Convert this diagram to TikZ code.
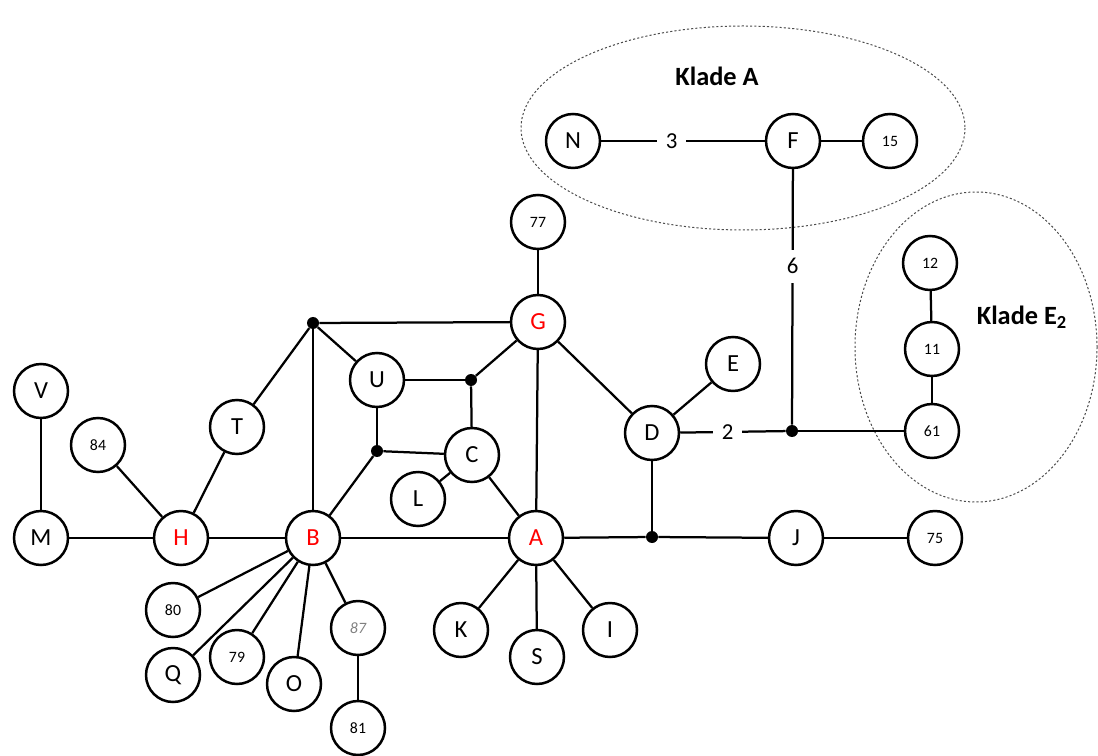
\documentclass[tikz,border=0pt]{standalone}
\usepackage{fontspec}
\setmainfont{Carlito}
\usepackage{tikz}

\begin{document}
\begin{tikzpicture}[x=0.02cm, y=-0.02cm,
        vtx/.style={shape=circle, draw=black, line width=0.5mm, minimum size=1.08cm, inner sep=0pt, font=\fontsize{14}{16}\selectfont},
        num/.style={vtx, font=\fontsize{9}{11}\selectfont},
        red/.style={text=red},
        dot/.style={shape=circle, fill=black, inner sep=0pt, minimum size=0.24cm},
        wt/.style={fill=white, inner sep=5pt, font=\fontsize{13}{15}\selectfont},
        link/.style={line width=0.45mm},
        clade/.style={draw=black!70, dashed, dash pattern=on 1.2pt off 1.2pt, line width=0.2mm}]
            \useasboundingbox (0, 0) rectangle (1098, 756);

            % clades
            \draw[clade] (743, 128) ellipse (222 and 102);
            \draw[clade] (976, 347) ellipse (121 and 155);
            \node[font=\bfseries\fontsize{15}{17}\selectfont] (kA) at (717, 76) {Klade A};
            \node[font=\bfseries\fontsize{15}{17}\selectfont] (kE) at (1022, 317) {Klade E\textsubscript{2}};

            \node[vtx] (N) at (573, 141) {N};
            \node[vtx] (F) at (793, 141) {F};
            \node[num] (n15) at (890, 141) {15};
            \node[num] (n77) at (538, 222) {77};
            \node[vtx, red] (G) at (538, 322) {G};
            \node[vtx] (U) at (377, 380) {U};
            \node[vtx] (C) at (472, 455) {C};
            \node[vtx] (L) at (418, 499) {L};
            \node[vtx] (E) at (733, 364) {E};
            \node[vtx] (D) at (652, 433) {D};
            \node[num] (n12) at (930, 263) {12};
            \node[num] (n11) at (932, 349) {11};
            \node[num] (n61) at (932, 431) {61};
            \node[vtx] (V) at (41, 391) {V};
            \node[num] (n84) at (98, 445) {84};
            \node[vtx] (T) at (237, 427) {T};
            \node[vtx] (M) at (41, 538) {M};
            \node[vtx, red] (H) at (181, 538) {H};
            \node[vtx, red] (B) at (313, 538) {B};
            \node[vtx, red] (A) at (536, 538) {A};
            \node[vtx] (J) at (796, 538) {J};
            \node[num] (n75) at (935, 538) {75};
            \node[num] (n80) at (173, 610) {80};
            \node[vtx] (Q) at (173, 675) {Q};
            \node[num] (n79) at (237, 657) {79};
            \node[vtx] (O) at (294, 684) {O};
            \node[num, text=gray] (n87) at (358, 628) {\itshape 87};
            \node[num] (n81) at (358, 728) {81};
            \node[vtx] (K) at (461, 630) {K};
            \node[vtx] (S) at (537, 657) {S};
            \node[vtx] (I) at (610, 630) {I};

            \node[dot] (p1) at (313, 323) {};
            \node[dot] (p2) at (471, 380) {};
            \node[dot] (p3) at (377, 451) {};
            \node[dot] (p4) at (792, 431) {};
            \node[dot] (p5) at (652, 537) {};

            \path [link] (N) edge node[wt, pos=0.43] {3} (F);
            \path [link] (F) edge (n15);
            \path [link] (F) edge node[wt, pos=0.38] {6} (p4);
            \path [link] (D) edge node[wt, pos=0.45] {2} (p4);
            \path [link] (p4) edge (n61);
            \path [link] (n61) edge (n11);
            \path [link] (n11) edge (n12);

            \path [link] (n77) edge (G);
            \path [link] (G) edge (p1);
            \path [link] (p1) edge (U);
            \path [link] (p1) edge (T);
            \path [link] (p1) edge (B);
            \path [link] (G) edge (p2);
            \path [link] (U) edge (p2);
            \path [link] (p2) edge (C);
            \path [link] (U) edge (p3);
            \path [link] (p3) edge (C);
            \path [link] (p3) edge (B);
            \path [link] (C) edge (L);
            \path [link] (C) edge (A);
            \path [link] (G) edge (A);
            \path [link] (G) edge (D);
            \path [link] (D) edge (E);
            \path [link] (D) edge (p5);

            \path [link] (V) edge (M);
            \path [link] (M) edge (H);
            \path [link] (n84) edge (H);
            \path [link] (T) edge (H);
            \path [link] (H) edge (B);
            \path [link] (B) edge (A);
            \path [link] (A) edge (p5);
            \path [link] (p5) edge (J);
            \path [link] (J) edge (n75);

            \path [link] (B) edge (n80);
            \path [link] (B) edge (Q);
            \path [link] (B) edge (n79);
            \path [link] (B) edge (O);
            \path [link] (B) edge (n87);
            \path [link] (n87) edge (n81);

            \path [link] (A) edge (K);
            \path [link] (A) edge (S);
            \path [link] (A) edge (I);
        \end{tikzpicture}
\end{document}
